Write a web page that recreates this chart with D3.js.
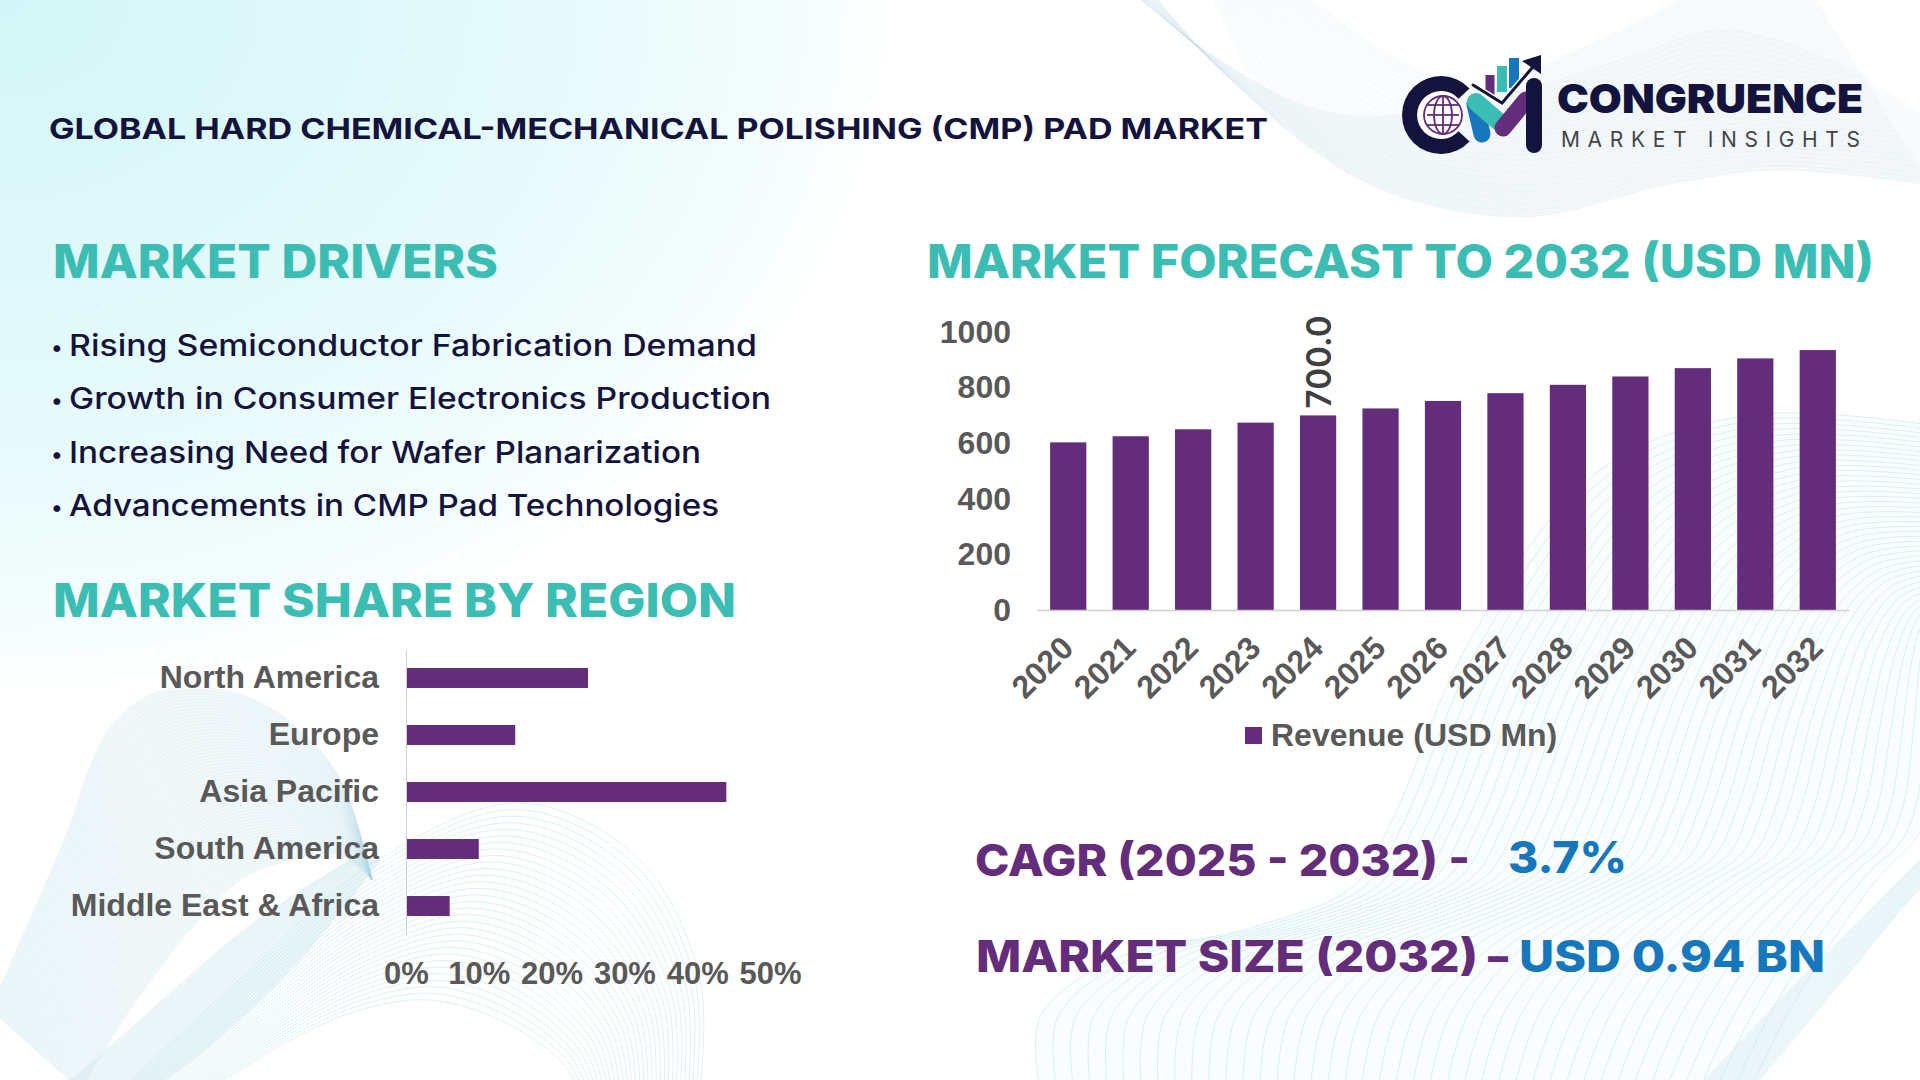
<!DOCTYPE html>
<html>
<head>
<meta charset="utf-8">
<script src="https://cdn.jsdelivr.net/npm/d3@7"></script>
<style>
  html, body { margin: 0; padding: 0; background: #fff; }
  svg { display: block; }
  .head { font-family: Inter, sans-serif; }
  .axis text, .legend { font-family: "Liberation Sans", Arial, sans-serif; font-weight: 700; fill: #595959; }
</style>
</head>
<body>
<div id="chart"></div>
<script>
const years = ["2020","2021","2022","2023","2024","2025","2026","2027","2028","2029","2030","2031","2032"];
const revenue = [603, 625, 650, 674, 700, 725, 752, 780, 810, 840, 870, 905, 935];
const labelledYear = "2024";
const yTicks = [0, 200, 400, 600, 800, 1000];

const regions = ["North America", "Europe", "Asia Pacific", "South America", "Middle East & Africa"];
const shares = [25, 15, 44, 10, 6];
const shareTicks = [0, 10, 20, 30, 40, 50];

const drivers = [
	"Rising Semiconductor Fabrication Demand",
	"Growth in Consumer Electronics Production",
	"Increasing Need for Wafer Planarization",
	"Advancements in CMP Pad Technologies"
];
const driverEnds = [757, 771, 701, 719];
const driverBase = [356, 409, 463, 516];

const PURPLE = "#632d7b", TEAL = "#3cbdb4", BLUE = "#1777bc", NAVY = "#13133d";

const svg = d3.select("#chart").append("svg")
	.attr("width", 1920)
	.attr("height", 1080)
	.attr("viewBox", [0, 0, 1920, 1080]);

// ---- background ----
const defs = svg.append("defs");
const grad = defs.append("radialGradient")
	.attr("id", "corner")
	.attr("gradientUnits", "userSpaceOnUse")
	.attr("cx", 0).attr("cy", 0).attr("r", 1)
	.attr("gradientTransform", "scale(900,700)");
grad.append("stop").attr("offset", 0).attr("stop-color", "#d2f6f8");
grad.append("stop").attr("offset", 0.6).attr("stop-color", "#e6fafb");
grad.append("stop").attr("offset", 0.9).attr("stop-color", "#f5fdfd");
grad.append("stop").attr("offset", 1).attr("stop-color", "#ffffff");
svg.append("rect").attr("width", 1920).attr("height", 1080).attr("fill", "url(#corner)");

const waveLine = d3.line().curve(d3.curveCatmullRom.alpha(0.5));

// a ribbon is a bundle of lines morphing from edge a to edge b, on a pale fill
function ribbon(a, b, n, color, op, w, fill, fillOp) {
	if (fill) {
		svg.append("path")
			.attr("d", waveLine(a) + "L" + waveLine(b.slice().reverse()).slice(1) + "Z")
			.attr("fill", fill).attr("fill-opacity", fillOp);
	}
	const g = svg.append("g").attr("fill", "none").attr("stroke", color)
		.attr("stroke-opacity", op).attr("stroke-width", w);
	d3.range(n + 1).forEach(i => {
		const t = i / n;
		g.append("path").attr("d", waveLine(a.map((p, k) => [
			p[0] + (b[k][0] - p[0]) * t,
			p[1] + (b[k][1] - p[1]) * t
		])));
	});
}

// top right
ribbon(
	[[1129,-10],[1205,50],[1309,107],[1393,115],[1530,70],[1660,10],[1780,-60]],
	[[1150,-10],[1231,80],[1361,180],[1518,217],[1675,183],[1780,170],[1930,185]],
	40, "#b6d4e6", 0.1, 1, "#dfecf4", 0.22);
ribbon(
	[[1300,-10],[1400,60],[1500,90],[1620,60],[1720,30],[1830,60],[1930,120]],
	[[1210,-10],[1260,90],[1361,180],[1518,217],[1675,183],[1780,170],[1930,185]],
	24, "#b6d4e6", 0.1, 1, "#dfecf4", 0.14);

// bottom right, big wave behind the summary
ribbon(
	[[1040,1090],[1040,1017],[1113,960],[1254,927],[1352,887],[1389,827],[1470,640],[1600,470],[1750,415],[1930,425]],
	[[1750,1090],[1790,1010],[1840,930],[1885,870],[1915,840],[1930,800],[1935,740],[1935,680],[1935,640],[1935,620]],
	42, "#a6dbe6", 0.42, 1, "#e3f3f8", 0.18);
ribbon(
	[[1756,1085],[1810,1020],[1860,960],[1905,905],[1930,880]],
	[[1700,1085],[1790,990],[1850,930],[1900,880],[1930,850]],
	14, "#a6dbe6", 0.25, 1, "#d6edf4", 0.35);

// bottom left, folded ribbon and arch
ribbon(
	[[120,1090],[250,970],[367,867],[520,803],[640,860],[700,980],[700,1090]],
	[[210,1090],[290,1040],[360,1010],[430,1000],[500,1020],[560,1060],[580,1090]],
	30, "#a6dbe6", 0.38, 1);
ribbon(
	[[-10,1010],[60,850],[112,725],[165,690],[255,700],[335,770],[372,880]],
	[[80,1090],[130,1010],[190,930],[240,880],[290,860],[340,855],[372,880]],
	60, "#9fd0df", 0.16, 1, "#cfe8ef", 0.28);
ribbon(
	[[380,860],[300,960],[205,1050],[150,1090]],
	[[350,860],[250,925],[140,1020],[60,1090]],
	22, "#9fd0df", 0.18, 1, "#cfe8ef", 0.35);

// ---- helpers for fixed-width text ----
function label(x, y, str, x1, size, color, weight) {
	return svg.append("text").attr("class", "head")
		.attr("x", x).attr("y", y)
		.attr("font-size", size)
		.attr("font-weight", weight || 700)
		.attr("fill", color)
		.attr("textLength", x1 - x)
		.attr("lengthAdjust", "spacingAndGlyphs")
		.text(str);
}

// ---- titles ----
label(49, 139, "GLOBAL HARD CHEMICAL-MECHANICAL POLISHING (CMP) PAD MARKET", 1268, 29, NAVY, 700);
label(53, 278, "MARKET DRIVERS", 498, 46, TEAL, 800);
label(927, 278, "MARKET FORECAST TO 2032 (USD MN)", 1874, 46, TEAL, 800);
label(53, 617, "MARKET SHARE BY REGION", 736, 46, TEAL, 800);

// ---- drivers ----
drivers.forEach((d, i) => {
	svg.append("text").attr("class", "head").attr("x", 51).attr("y", driverBase[i] - 1)
		.attr("font-size", 22).attr("font-weight", 500).attr("fill", NAVY).text("•");
	label(69, driverBase[i], d, driverEnds[i], 30, NAVY, 500);
});

// ---- forecast bars ----
const x = d3.scaleBand().domain(years).range([1037, 1849]).paddingInner(0.42).paddingOuter(0.21);
const y = d3.scaleLinear().domain([0, 1000]).range([610, 332]);

svg.selectAll(".rev").data(years).join("rect")
	.attr("class", "rev")
	.attr("x", d => x(d))
	.attr("y", (d, i) => y(revenue[i]))
	.attr("width", x.bandwidth())
	.attr("height", (d, i) => y(0) - y(revenue[i]))
	.attr("fill", PURPLE);

const yAxis = svg.append("g").attr("class", "axis")
	.attr("transform", "translate(1037,0)")
	.call(d3.axisLeft(y).tickValues(yTicks).tickFormat(d3.format("d")).tickSize(0).tickPadding(26));
yAxis.select(".domain").remove();
yAxis.selectAll("text").attr("font-size", 32);

const xAxis = svg.append("g").attr("class", "axis")
	.attr("transform", "translate(0,610)")
	.call(d3.axisBottom(x).tickSize(0));
xAxis.select(".domain").attr("stroke", "#d0d0d0").attr("stroke-width", 1.5);
xAxis.selectAll("text")
	.attr("font-size", 32)
	.attr("text-anchor", "end")
	.attr("y", 0).attr("dy", 0)
	.attr("transform", "translate(7,40) rotate(-45)");

// the one data label in the chart
const li = years.indexOf(labelledYear);
svg.append("text").attr("class", "head")
	.attr("transform", `translate(${x(labelledYear) + x.bandwidth() / 2 + 13},${y(revenue[li]) - 7}) rotate(-90)`)
	.attr("font-size", 34).attr("font-weight", 600).attr("fill", "#404040")
	.attr("textLength", 93).attr("lengthAdjust", "spacingAndGlyphs")
	.text(revenue[li].toFixed(1));

// legend
svg.append("rect").attr("x", 1245).attr("y", 727).attr("width", 17).attr("height", 17).attr("fill", PURPLE);
svg.append("text").attr("class", "legend").attr("x", 1271).attr("y", 746)
	.attr("font-size", 32).text("Revenue (USD Mn)");

// ---- region bars ----
const sx = d3.scaleLinear().domain([0, 50]).range([406, 770]);
const sy = d3.scaleBand().domain(regions).range([649.5, 934.5]).paddingInner(0.65).paddingOuter(0.325);

svg.selectAll(".share").data(regions).join("rect")
	.attr("class", "share")
	.attr("x", sx(0))
	.attr("y", d => sy(d))
	.attr("width", (d, i) => sx(shares[i]) - sx(0))
	.attr("height", sy.bandwidth())
	.attr("fill", PURPLE);

const rAxis = svg.append("g").attr("class", "axis")
	.attr("transform", "translate(406,0)")
	.call(d3.axisLeft(sy).tickSize(0).tickPadding(27));
rAxis.select(".domain").attr("stroke", "#d0d0d0").attr("stroke-width", 1);
rAxis.selectAll("text").attr("font-size", 32);

const pAxis = svg.append("g").attr("class", "axis")
	.attr("transform", "translate(0,984)")
	.call(d3.axisBottom(sx).tickValues(shareTicks).tickFormat(d => d + "%").tickSize(0));
pAxis.select(".domain").remove();
pAxis.selectAll("text").attr("font-size", 31).attr("y", 0).attr("dy", 0);

// ---- summary ----
label(975, 876, "CAGR (2025 - 2032) -", 1470, 44, PURPLE, 800);
label(1508, 873, "3.7%", 1627, 44, BLUE, 800);
label(976, 972, "MARKET SIZE (2032)", 1478, 44, PURPLE, 800);
label(1488, 972, "–", 1508, 44, PURPLE, 800);
label(1519, 972, "USD 0.94 BN", 1825, 44, BLUE, 800);

// ---- logo ----
const logo = svg.append("g");
logo.append("circle").attr("cx", 1442).attr("cy", 115).attr("r", 24).attr("fill", "#ffffff");
logo.append("path")
	.attr("d", d3.arc().innerRadius(24).outerRadius(39)
		.startAngle(Math.PI / 2 + 0.75).endAngle(Math.PI * 2.5 - 0.75)())
	.attr("transform", "translate(1441,115)")
	.attr("fill", NAVY);
const globe = logo.append("g").attr("transform", "translate(1443,115)").attr("fill", "none")
	.attr("stroke", PURPLE).attr("stroke-width", 1.8);
globe.append("circle").attr("r", 19);
globe.append("ellipse").attr("rx", 9).attr("ry", 19);
globe.append("line").attr("x1", 0).attr("x2", 0).attr("y1", -19).attr("y2", 19);
[-10, 0, 10].forEach(d => globe.append("line").attr("x1", -16).attr("x2", 16).attr("y1", d).attr("y2", d));

[[1490, 75, 9, 20, PURPLE], [1502, 66, 10, 26, TEAL], [1514, 58, 10, 30, BLUE]].forEach(b => {
	logo.append("rect").attr("x", b[0] - b[2] / 2).attr("y", b[1]).attr("width", b[2]).attr("height", b[3]).attr("fill", b[4]);
});
const stroke = (pts, c, w) => logo.append("path").attr("d", d3.line()(pts)).attr("fill", "none")
	.attr("stroke", c).attr("stroke-width", w).attr("stroke-linecap", "round");
stroke([[1475, 104], [1482, 134]], BLUE, 17);
stroke([[1476, 102], [1499, 122]], TEAL, 18);
stroke([[1503, 128], [1526, 100]], PURPLE, 17);
stroke([[1534, 86], [1534, 145]], NAVY, 16);
stroke([[1473, 85], [1502, 103], [1532, 68]], "#ffffff", 6);
stroke([[1473, 85], [1502, 103], [1532, 68]], NAVY, 3);
logo.append("path").attr("d", d3.line()([[1522, 61], [1541, 55], [1541, 74]])).attr("fill", NAVY);

label(1557, 113, "CONGRUENCE", 1863, 40, NAVY, 900);
svg.append("text").attr("x", 1561).attr("y", 147)
	.attr("font-family", "Inter, sans-serif").attr("font-size", 21).attr("fill", "#444444")
	.attr("textLength", 299).attr("lengthAdjust", "spacing")
	.text("MARKET INSIGHTS");
</script>
</body>
</html>
